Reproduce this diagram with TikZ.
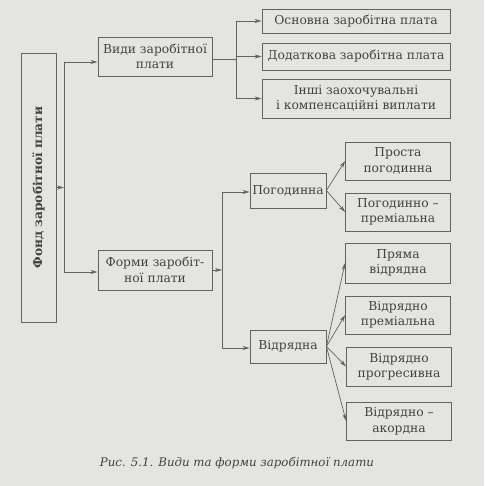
\documentclass[tikz,border=0pt]{standalone}
\usepackage{fontspec}
\setmainfont{DejaVu Serif}
\usepackage{tikz}
\usetikzlibrary{arrows.meta}

\definecolor{paper}{RGB}{228,228,225}
\definecolor{linegray}{RGB}{98,98,96}
\definecolor{inkgray}{RGB}{66,66,64}

\tikzset{
  box/.style={draw=linegray, line width=0.8pt, text=inkgray, align=center,
    inner sep=1pt, font=\fontsize{12.3}{15.5}\selectfont},
  link/.style={draw=linegray, line width=0.7pt},
  arr/.style={link, -{Stealth[length=7pt,width=4pt]}}
}

\begin{document}
\begin{tikzpicture}[x=1pt,y=1pt,yscale=-1,xscale=1]
    %Shape: Paper
    \fill[paper] (0,0) rectangle (484,486);
    \useasboundingbox (0,0) rectangle (484,486);

    %Shape: Rectangle (left, rotated)
    \node[box, rotate=90, minimum width=269pt, minimum height=35pt,
      font=\bfseries\fontsize{12.2}{15}\selectfont] (fond) at (38.5,187.5) {Фонд заробітної плати};

    % Text Node
    \node[box, minimum width=114pt, minimum height=39pt] (vydy) at (155,56.5) {Види заробітної\\плати};
    % Text Node
    \node[box, minimum width=114pt, minimum height=40pt] (formy) at (155,270) {Форми заробіт-\\ної плати};

    % Text Node
    \node[box, minimum width=188pt, minimum height=24pt] (osnovna) at (356,21) {Основна заробітна плата};
    % Text Node
    \node[box, minimum width=188pt, minimum height=27pt] (dodat) at (356,56.5) {Додаткова заробітна плата};
    % Text Node
    \node[box, minimum width=188pt, minimum height=39pt] (inshi) at (356,98.5) {Інші заохочувальні\\і компенсаційні виплати};

    % Text Node
    \node[box, minimum width=76pt, minimum height=35pt] (pogod) at (288,190.5) {Погодинна};
    % Text Node
    \node[box, minimum width=76pt, minimum height=33pt] (vidr) at (288,346.5) {Відрядна};

    % Text Node
    \node[box, minimum width=105pt, minimum height=38pt] (prosta) at (398,161) {Проста\\погодинна};
    % Text Node
    \node[box, minimum width=105pt, minimum height=38pt] (pogprem) at (398,212) {Погодинно –\\преміальна};
    % Text Node
    \node[box, minimum width=105pt, minimum height=40pt] (pryama) at (398,263) {Пряма\\відрядна};
    % Text Node
    \node[box, minimum width=105pt, minimum height=38pt] (vprem) at (398,315) {Відрядно\\преміальна};
    % Text Node
    \node[box, minimum width=105pt, minimum height=39pt] (vprog) at (399,366.5) {Відрядно\\прогресивна};
    % Text Node
    \node[box, minimum width=105pt, minimum height=38pt] (vakord) at (399,421) {Відрядно –\\акордна};

    %Straight Lines: spine of the left box
    \coordinate (spineA) at (64,62);
    \coordinate (spineB) at (64,272);
    \draw[link] (spineA) -- (spineB);
    \draw[arr] (fond.south) -- (fond.south -| spineA);
    \draw[arr] (spineA) -- (spineA -| vydy.west);
    \draw[arr] (spineB) -- (spineB -| formy.west);

    %Straight Lines: kinds of pay
    \coordinate (spineC) at (236,21);
    \coordinate (spineD) at (236,98.5);
    \draw[link] (vydy.east |- 0,59) -- (236,59);
    \draw[link] (spineC) -- (spineD);
    \draw[arr] (spineC) -- (osnovna.west);
    \draw[arr] (spineC |- dodat.west) -- (dodat.west);
    \draw[arr] (spineD) -- (inshi.west);

    %Straight Lines: forms of pay
    \coordinate (spineE) at (222,192);
    \coordinate (spineF) at (222,348);
    \draw[link] (spineE) -- (spineF);
    \draw[arr] (formy.east) -- (formy.east -| spineE);
    \draw[arr] (spineE) -- (spineE -| pogod.west);
    \draw[arr] (spineF) -- (spineF -| vidr.west);

    %Straight Lines: fans
    \foreach \k in {prosta,pogprem}
      \draw[arr] (pogod.east) -- (\k.west);
    \foreach \k in {pryama,vprem,vprog,vakord}
      \draw[arr] (vidr.east) -- (\k.west);

    % Text Node
    \node[text=inkgray, font=\itshape\fontsize{11.8}{14}\selectfont] (caption) at (237,463) {Рис. 5.1. Види та форми заробітної плати};
\end{tikzpicture}
\end{document}
